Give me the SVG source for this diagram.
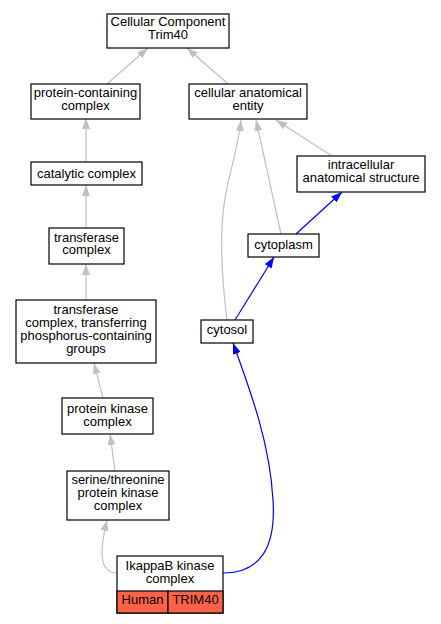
<svg xmlns="http://www.w3.org/2000/svg" width="441" height="624" viewBox="0 0 441 624">
<style>
.n rect{fill:#fff;stroke:#000;stroke-width:1.2}
.n text,.t{font-family:"Liberation Sans",Arial,sans-serif;font-size:13px;text-anchor:middle;fill:#000}
.g{fill:none;stroke:#c0c0c0;stroke-width:1.2}
.b{fill:none;stroke:#0000ff;stroke-width:1.2}
</style>
<defs>
<marker id="ag" markerUnits="userSpaceOnUse" markerWidth="11" markerHeight="8" viewBox="0 0 11 8" refX="11" refY="4" orient="auto"><path d="M0,0 L11,4 L0,8 z" fill="#c0c0c0"/></marker>
<marker id="ab" markerUnits="userSpaceOnUse" markerWidth="11" markerHeight="8" viewBox="0 0 11 8" refX="11" refY="4" orient="auto"><path d="M0,0 L11,4 L0,8 z" fill="#0000ff"/></marker>
</defs>
<rect width="441" height="624" fill="#fff"/>
<g id="edges">
<path class="g" d="M107,84 L148,48" marker-end="url(#ag)"/>
<path class="g" d="M228,84 L187,48" marker-end="url(#ag)"/>
<path class="g" d="M86,162 L86,118" marker-end="url(#ag)"/>
<path class="g" d="M86,228 L86,185" marker-end="url(#ag)"/>
<path class="g" d="M86,300 L86,264" marker-end="url(#ag)"/>
<path class="g" d="M103,398 L94,363" marker-end="url(#ag)"/>
<path class="g" d="M115,471 L110,434" marker-end="url(#ag)"/>
<path class="g" d="M117,573 C98,573 100,548 107,520" marker-end="url(#ag)"/>
<path class="g" d="M332,156 L276,120" marker-end="url(#ag)"/>
<path class="g" d="M281,234 L256,120" marker-end="url(#ag)"/>
<path class="g" d="M227,320 C222,280 220,235 224,205 C228,175 238,150 241,120" marker-end="url(#ag)"/>
<path class="b" d="M296,234 L342,192" marker-end="url(#ab)"/>
<path class="b" d="M235,320 L274,257" marker-end="url(#ab)"/>
<path class="b" d="M223,573 C262,573 276,545 273,500 C270,445 252,395 233,343" marker-end="url(#ab)"/>
</g>
<g id="n1" class="n"><rect x="107" y="14" width="122" height="34"/><text x="168" y="26">Cellular Component</text><text x="168" y="39">Trim40</text></g>
<g id="n2" class="n"><rect x="31" y="84" width="109" height="35"/><text x="85.5" y="97">protein-containing</text><text x="85.5" y="110">complex</text></g>
<g id="n3" class="n"><rect x="189" y="84" width="118" height="35"/><text x="248" y="97">cellular anatomical</text><text x="248" y="110">entity</text></g>
<g id="n4" class="n"><rect x="31" y="162" width="111" height="23"/><text x="86.5" y="178">catalytic complex</text></g>
<g id="n5" class="n"><rect x="297" y="156" width="128" height="36"/><text x="361" y="169">intracellular</text><text x="361" y="182">anatomical structure</text></g>
<g id="n6" class="n"><rect x="49" y="228" width="75" height="36"/><text x="86.5" y="242">transferase</text><text x="86.5" y="254">complex</text></g>
<g id="n7" class="n"><rect x="248" y="234" width="71" height="23"/><text x="283.5" y="249">cytoplasm</text></g>
<g id="n8" class="n"><rect x="16" y="300" width="140" height="63"/><text x="86" y="314">transferase</text><text x="86" y="327">complex, transferring</text><text x="86" y="340">phosphorus-containing</text><text x="86" y="353">groups</text></g>
<g id="n9" class="n"><rect x="201" y="320" width="52" height="23"/><text x="227" y="334">cytosol</text></g>
<g id="n10" class="n"><rect x="62" y="398" width="91" height="36"/><text x="107.5" y="413">protein kinase</text><text x="107.5" y="426">complex</text></g>
<g id="n11" class="n"><rect x="67" y="471" width="102" height="49"/><text x="118" y="484">serine/threonine</text><text x="118" y="497">protein kinase</text><text x="118" y="510">complex</text></g>
<g id="n12" class="n"><rect x="117" y="556" width="106" height="57"/><text x="170" y="570">IkappaB kinase</text><text x="170" y="583">complex</text><rect x="117" y="591" width="51" height="22" style="fill:#ff6347"/><rect x="168" y="591" width="55" height="22" style="fill:#ff6347"/><text x="142.5" y="604">Human</text><text x="195.5" y="604">TRIM40</text></g>
</svg>
